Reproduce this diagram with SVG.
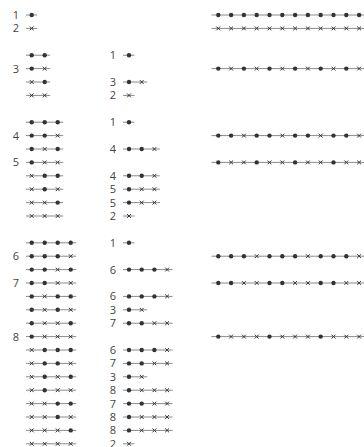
<svg xmlns="http://www.w3.org/2000/svg" xmlns:xlink="http://www.w3.org/1999/xlink" width="364" height="447" viewBox="0 0 364 447">
<style>
.ln{stroke:#8a8a8a;stroke-width:1;fill:none}
.lb{font-family:"Open Sans","DejaVu Sans",sans-serif;font-size:11px;fill:#444;text-anchor:end}
</style>
<defs>
<circle id="d" r="2.2" fill="#333"/>
<path id="x" d="M-1.9,-1.9L1.9,1.9M-1.9,1.9L1.9,-1.9" stroke="#333" stroke-width="1" fill="none"/>
</defs>
<rect width="364" height="447" fill="#fff"/>
<g id="left">
<g id="L0" transform="translate(0,15)"><line class="ln" x1="26" y1="0" x2="37.2" y2="0"/><use href="#d" x="31.7"/><text class="lb" x="19" y="4">1</text></g>
<g id="L1" transform="translate(0,28.4)"><line class="ln" x1="26" y1="0" x2="37.2" y2="0"/><use href="#x" x="31.7"/><text class="lb" x="19" y="4">2</text></g>
<g id="L3" transform="translate(0,55.2)"><line class="ln" x1="26" y1="0" x2="50.2" y2="0"/><use href="#d" x="31.7"/><use href="#d" x="44.7"/></g>
<g id="L4" transform="translate(0,68.6)"><line class="ln" x1="26" y1="0" x2="50.2" y2="0"/><use href="#d" x="31.7"/><use href="#x" x="44.7"/><text class="lb" x="19" y="4">3</text></g>
<g id="L5" transform="translate(0,82)"><line class="ln" x1="26" y1="0" x2="50.2" y2="0"/><use href="#x" x="31.7"/><use href="#d" x="44.7"/></g>
<g id="L6" transform="translate(0,95.4)"><line class="ln" x1="26" y1="0" x2="50.2" y2="0"/><use href="#x" x="31.7"/><use href="#x" x="44.7"/></g>
<g id="L8" transform="translate(0,122.2)"><line class="ln" x1="26" y1="0" x2="63.2" y2="0"/><use href="#d" x="31.7"/><use href="#d" x="44.7"/><use href="#d" x="57.7"/></g>
<g id="L9" transform="translate(0,135.6)"><line class="ln" x1="26" y1="0" x2="63.2" y2="0"/><use href="#d" x="31.7"/><use href="#d" x="44.7"/><use href="#x" x="57.7"/><text class="lb" x="19" y="4">4</text></g>
<g id="L10" transform="translate(0,149)"><line class="ln" x1="26" y1="0" x2="63.2" y2="0"/><use href="#d" x="31.7"/><use href="#x" x="44.7"/><use href="#d" x="57.7"/></g>
<g id="L11" transform="translate(0,162.4)"><line class="ln" x1="26" y1="0" x2="63.2" y2="0"/><use href="#d" x="31.7"/><use href="#x" x="44.7"/><use href="#x" x="57.7"/><text class="lb" x="19" y="4">5</text></g>
<g id="L12" transform="translate(0,175.8)"><line class="ln" x1="26" y1="0" x2="63.2" y2="0"/><use href="#x" x="31.7"/><use href="#d" x="44.7"/><use href="#d" x="57.7"/></g>
<g id="L13" transform="translate(0,189.2)"><line class="ln" x1="26" y1="0" x2="63.2" y2="0"/><use href="#x" x="31.7"/><use href="#d" x="44.7"/><use href="#x" x="57.7"/></g>
<g id="L14" transform="translate(0,202.6)"><line class="ln" x1="26" y1="0" x2="63.2" y2="0"/><use href="#x" x="31.7"/><use href="#x" x="44.7"/><use href="#d" x="57.7"/></g>
<g id="L15" transform="translate(0,216)"><line class="ln" x1="26" y1="0" x2="63.2" y2="0"/><use href="#x" x="31.7"/><use href="#x" x="44.7"/><use href="#x" x="57.7"/></g>
<g id="L17" transform="translate(0,242.8)"><line class="ln" x1="26" y1="0" x2="76.2" y2="0"/><use href="#d" x="31.7"/><use href="#d" x="44.7"/><use href="#d" x="57.7"/><use href="#d" x="70.7"/></g>
<g id="L18" transform="translate(0,256.2)"><line class="ln" x1="26" y1="0" x2="76.2" y2="0"/><use href="#d" x="31.7"/><use href="#d" x="44.7"/><use href="#d" x="57.7"/><use href="#x" x="70.7"/><text class="lb" x="19" y="4">6</text></g>
<g id="L19" transform="translate(0,269.6)"><line class="ln" x1="26" y1="0" x2="76.2" y2="0"/><use href="#d" x="31.7"/><use href="#d" x="44.7"/><use href="#x" x="57.7"/><use href="#d" x="70.7"/></g>
<g id="L20" transform="translate(0,283)"><line class="ln" x1="26" y1="0" x2="76.2" y2="0"/><use href="#d" x="31.7"/><use href="#d" x="44.7"/><use href="#x" x="57.7"/><use href="#x" x="70.7"/><text class="lb" x="19" y="4">7</text></g>
<g id="L21" transform="translate(0,296.4)"><line class="ln" x1="26" y1="0" x2="76.2" y2="0"/><use href="#d" x="31.7"/><use href="#x" x="44.7"/><use href="#d" x="57.7"/><use href="#d" x="70.7"/></g>
<g id="L22" transform="translate(0,309.8)"><line class="ln" x1="26" y1="0" x2="76.2" y2="0"/><use href="#d" x="31.7"/><use href="#x" x="44.7"/><use href="#d" x="57.7"/><use href="#x" x="70.7"/></g>
<g id="L23" transform="translate(0,323.2)"><line class="ln" x1="26" y1="0" x2="76.2" y2="0"/><use href="#d" x="31.7"/><use href="#x" x="44.7"/><use href="#x" x="57.7"/><use href="#d" x="70.7"/></g>
<g id="L24" transform="translate(0,336.6)"><line class="ln" x1="26" y1="0" x2="76.2" y2="0"/><use href="#d" x="31.7"/><use href="#x" x="44.7"/><use href="#x" x="57.7"/><use href="#x" x="70.7"/><text class="lb" x="19" y="4">8</text></g>
<g id="L25" transform="translate(0,350)"><line class="ln" x1="26" y1="0" x2="76.2" y2="0"/><use href="#x" x="31.7"/><use href="#d" x="44.7"/><use href="#d" x="57.7"/><use href="#d" x="70.7"/></g>
<g id="L26" transform="translate(0,363.4)"><line class="ln" x1="26" y1="0" x2="76.2" y2="0"/><use href="#x" x="31.7"/><use href="#d" x="44.7"/><use href="#d" x="57.7"/><use href="#x" x="70.7"/></g>
<g id="L27" transform="translate(0,376.8)"><line class="ln" x1="26" y1="0" x2="76.2" y2="0"/><use href="#x" x="31.7"/><use href="#d" x="44.7"/><use href="#x" x="57.7"/><use href="#d" x="70.7"/></g>
<g id="L28" transform="translate(0,390.2)"><line class="ln" x1="26" y1="0" x2="76.2" y2="0"/><use href="#x" x="31.7"/><use href="#d" x="44.7"/><use href="#x" x="57.7"/><use href="#x" x="70.7"/></g>
<g id="L29" transform="translate(0,403.6)"><line class="ln" x1="26" y1="0" x2="76.2" y2="0"/><use href="#x" x="31.7"/><use href="#x" x="44.7"/><use href="#d" x="57.7"/><use href="#d" x="70.7"/></g>
<g id="L30" transform="translate(0,417)"><line class="ln" x1="26" y1="0" x2="76.2" y2="0"/><use href="#x" x="31.7"/><use href="#x" x="44.7"/><use href="#d" x="57.7"/><use href="#x" x="70.7"/></g>
<g id="L31" transform="translate(0,430.4)"><line class="ln" x1="26" y1="0" x2="76.2" y2="0"/><use href="#x" x="31.7"/><use href="#x" x="44.7"/><use href="#x" x="57.7"/><use href="#d" x="70.7"/></g>
<g id="L32" transform="translate(0,443.8)"><line class="ln" x1="26" y1="0" x2="76.2" y2="0"/><use href="#x" x="31.7"/><use href="#x" x="44.7"/><use href="#x" x="57.7"/><use href="#x" x="70.7"/></g>
</g>
<g id="middle">
<g id="M3" transform="translate(0,55.2)"><line class="ln" x1="123" y1="0" x2="134.5" y2="0"/><use href="#d" x="129"/><text class="lb" x="116" y="4">1</text></g>
<g id="M5" transform="translate(0,82)"><line class="ln" x1="123" y1="0" x2="147.2" y2="0"/><use href="#d" x="129"/><use href="#x" x="141.7"/><text class="lb" x="116" y="4">3</text></g>
<g id="M6" transform="translate(0,95.4)"><line class="ln" x1="123" y1="0" x2="134.5" y2="0"/><use href="#x" x="129"/><text class="lb" x="116" y="4">2</text></g>
<g id="M8" transform="translate(0,122.2)"><line class="ln" x1="123" y1="0" x2="134.5" y2="0"/><use href="#d" x="129"/><text class="lb" x="116" y="4">1</text></g>
<g id="M10" transform="translate(0,149)"><line class="ln" x1="123" y1="0" x2="159.9" y2="0"/><use href="#d" x="129"/><use href="#d" x="141.7"/><use href="#x" x="154.4"/><text class="lb" x="116" y="4">4</text></g>
<g id="M12" transform="translate(0,175.8)"><line class="ln" x1="123" y1="0" x2="159.9" y2="0"/><use href="#d" x="129"/><use href="#d" x="141.7"/><use href="#x" x="154.4"/><text class="lb" x="116" y="4">4</text></g>
<g id="M13" transform="translate(0,189.2)"><line class="ln" x1="123" y1="0" x2="159.9" y2="0"/><use href="#d" x="129"/><use href="#x" x="141.7"/><use href="#x" x="154.4"/><text class="lb" x="116" y="4">5</text></g>
<g id="M14" transform="translate(0,202.6)"><line class="ln" x1="123" y1="0" x2="159.9" y2="0"/><use href="#d" x="129"/><use href="#x" x="141.7"/><use href="#x" x="154.4"/><text class="lb" x="116" y="4">5</text></g>
<g id="M15" transform="translate(0,216)"><line class="ln" x1="123" y1="0" x2="134.5" y2="0"/><use href="#x" x="129"/><text class="lb" x="116" y="4">2</text></g>
<g id="M17" transform="translate(0,242.8)"><line class="ln" x1="123" y1="0" x2="134.5" y2="0"/><use href="#d" x="129"/><text class="lb" x="116" y="4">1</text></g>
<g id="M19" transform="translate(0,269.6)"><line class="ln" x1="123" y1="0" x2="172.6" y2="0"/><use href="#d" x="129"/><use href="#d" x="141.7"/><use href="#d" x="154.4"/><use href="#x" x="167.1"/><text class="lb" x="116" y="4">6</text></g>
<g id="M21" transform="translate(0,296.4)"><line class="ln" x1="123" y1="0" x2="172.6" y2="0"/><use href="#d" x="129"/><use href="#d" x="141.7"/><use href="#d" x="154.4"/><use href="#x" x="167.1"/><text class="lb" x="116" y="4">6</text></g>
<g id="M22" transform="translate(0,309.8)"><line class="ln" x1="123" y1="0" x2="147.2" y2="0"/><use href="#d" x="129"/><use href="#x" x="141.7"/><text class="lb" x="116" y="4">3</text></g>
<g id="M23" transform="translate(0,323.2)"><line class="ln" x1="123" y1="0" x2="172.6" y2="0"/><use href="#d" x="129"/><use href="#d" x="141.7"/><use href="#x" x="154.4"/><use href="#x" x="167.1"/><text class="lb" x="116" y="4">7</text></g>
<g id="M25" transform="translate(0,350)"><line class="ln" x1="123" y1="0" x2="172.6" y2="0"/><use href="#d" x="129"/><use href="#d" x="141.7"/><use href="#d" x="154.4"/><use href="#x" x="167.1"/><text class="lb" x="116" y="4">6</text></g>
<g id="M26" transform="translate(0,363.4)"><line class="ln" x1="123" y1="0" x2="172.6" y2="0"/><use href="#d" x="129"/><use href="#d" x="141.7"/><use href="#x" x="154.4"/><use href="#x" x="167.1"/><text class="lb" x="116" y="4">7</text></g>
<g id="M27" transform="translate(0,376.8)"><line class="ln" x1="123" y1="0" x2="147.2" y2="0"/><use href="#d" x="129"/><use href="#x" x="141.7"/><text class="lb" x="116" y="4">3</text></g>
<g id="M28" transform="translate(0,390.2)"><line class="ln" x1="123" y1="0" x2="172.6" y2="0"/><use href="#d" x="129"/><use href="#x" x="141.7"/><use href="#x" x="154.4"/><use href="#x" x="167.1"/><text class="lb" x="116" y="4">8</text></g>
<g id="M29" transform="translate(0,403.6)"><line class="ln" x1="123" y1="0" x2="172.6" y2="0"/><use href="#d" x="129"/><use href="#d" x="141.7"/><use href="#x" x="154.4"/><use href="#x" x="167.1"/><text class="lb" x="116" y="4">7</text></g>
<g id="M30" transform="translate(0,417)"><line class="ln" x1="123" y1="0" x2="172.6" y2="0"/><use href="#d" x="129"/><use href="#x" x="141.7"/><use href="#x" x="154.4"/><use href="#x" x="167.1"/><text class="lb" x="116" y="4">8</text></g>
<g id="M31" transform="translate(0,430.4)"><line class="ln" x1="123" y1="0" x2="172.6" y2="0"/><use href="#d" x="129"/><use href="#x" x="141.7"/><use href="#x" x="154.4"/><use href="#x" x="167.1"/><text class="lb" x="116" y="4">8</text></g>
<g id="M32" transform="translate(0,443.8)"><line class="ln" x1="123" y1="0" x2="134.5" y2="0"/><use href="#x" x="129"/><text class="lb" x="116" y="4">2</text></g>
</g>
<g id="right">
<g id="R1" transform="translate(0,15)"><line class="ln" x1="211.5" y1="0" x2="364" y2="0"/><use href="#d" x="218.3"/><use href="#d" x="231.1"/><use href="#d" x="243.9"/><use href="#d" x="256.7"/><use href="#d" x="269.5"/><use href="#d" x="282.3"/><use href="#d" x="295.1"/><use href="#d" x="307.9"/><use href="#d" x="320.7"/><use href="#d" x="333.5"/><use href="#d" x="346.3"/><use href="#d" x="359.1"/></g>
<g id="R2" transform="translate(0,28.4)"><line class="ln" x1="211.5" y1="0" x2="364" y2="0"/><use href="#x" x="218.3"/><use href="#x" x="231.1"/><use href="#x" x="243.9"/><use href="#x" x="256.7"/><use href="#x" x="269.5"/><use href="#x" x="282.3"/><use href="#x" x="295.1"/><use href="#x" x="307.9"/><use href="#x" x="320.7"/><use href="#x" x="333.5"/><use href="#x" x="346.3"/><use href="#x" x="359.1"/></g>
<g id="R3" transform="translate(0,68.6)"><line class="ln" x1="211.5" y1="0" x2="364" y2="0"/><use href="#d" x="218.3"/><use href="#x" x="231.1"/><use href="#d" x="243.9"/><use href="#x" x="256.7"/><use href="#d" x="269.5"/><use href="#x" x="282.3"/><use href="#d" x="295.1"/><use href="#x" x="307.9"/><use href="#d" x="320.7"/><use href="#x" x="333.5"/><use href="#d" x="346.3"/><use href="#x" x="359.1"/></g>
<g id="R4" transform="translate(0,135.6)"><line class="ln" x1="211.5" y1="0" x2="364" y2="0"/><use href="#d" x="218.3"/><use href="#d" x="231.1"/><use href="#x" x="243.9"/><use href="#d" x="256.7"/><use href="#d" x="269.5"/><use href="#x" x="282.3"/><use href="#d" x="295.1"/><use href="#d" x="307.9"/><use href="#x" x="320.7"/><use href="#d" x="333.5"/><use href="#d" x="346.3"/><use href="#x" x="359.1"/></g>
<g id="R5" transform="translate(0,162.4)"><line class="ln" x1="211.5" y1="0" x2="364" y2="0"/><use href="#d" x="218.3"/><use href="#x" x="231.1"/><use href="#x" x="243.9"/><use href="#d" x="256.7"/><use href="#x" x="269.5"/><use href="#x" x="282.3"/><use href="#d" x="295.1"/><use href="#x" x="307.9"/><use href="#x" x="320.7"/><use href="#d" x="333.5"/><use href="#x" x="346.3"/><use href="#x" x="359.1"/></g>
<g id="R6" transform="translate(0,256.2)"><line class="ln" x1="211.5" y1="0" x2="364" y2="0"/><use href="#d" x="218.3"/><use href="#d" x="231.1"/><use href="#d" x="243.9"/><use href="#x" x="256.7"/><use href="#d" x="269.5"/><use href="#d" x="282.3"/><use href="#d" x="295.1"/><use href="#x" x="307.9"/><use href="#d" x="320.7"/><use href="#d" x="333.5"/><use href="#d" x="346.3"/><use href="#x" x="359.1"/></g>
<g id="R7" transform="translate(0,283)"><line class="ln" x1="211.5" y1="0" x2="364" y2="0"/><use href="#d" x="218.3"/><use href="#d" x="231.1"/><use href="#x" x="243.9"/><use href="#x" x="256.7"/><use href="#d" x="269.5"/><use href="#d" x="282.3"/><use href="#x" x="295.1"/><use href="#x" x="307.9"/><use href="#d" x="320.7"/><use href="#d" x="333.5"/><use href="#x" x="346.3"/><use href="#x" x="359.1"/></g>
<g id="R8" transform="translate(0,336.6)"><line class="ln" x1="211.5" y1="0" x2="364" y2="0"/><use href="#d" x="218.3"/><use href="#x" x="231.1"/><use href="#x" x="243.9"/><use href="#x" x="256.7"/><use href="#d" x="269.5"/><use href="#x" x="282.3"/><use href="#x" x="295.1"/><use href="#x" x="307.9"/><use href="#d" x="320.7"/><use href="#x" x="333.5"/><use href="#x" x="346.3"/><use href="#x" x="359.1"/></g>
</g>
</svg>
